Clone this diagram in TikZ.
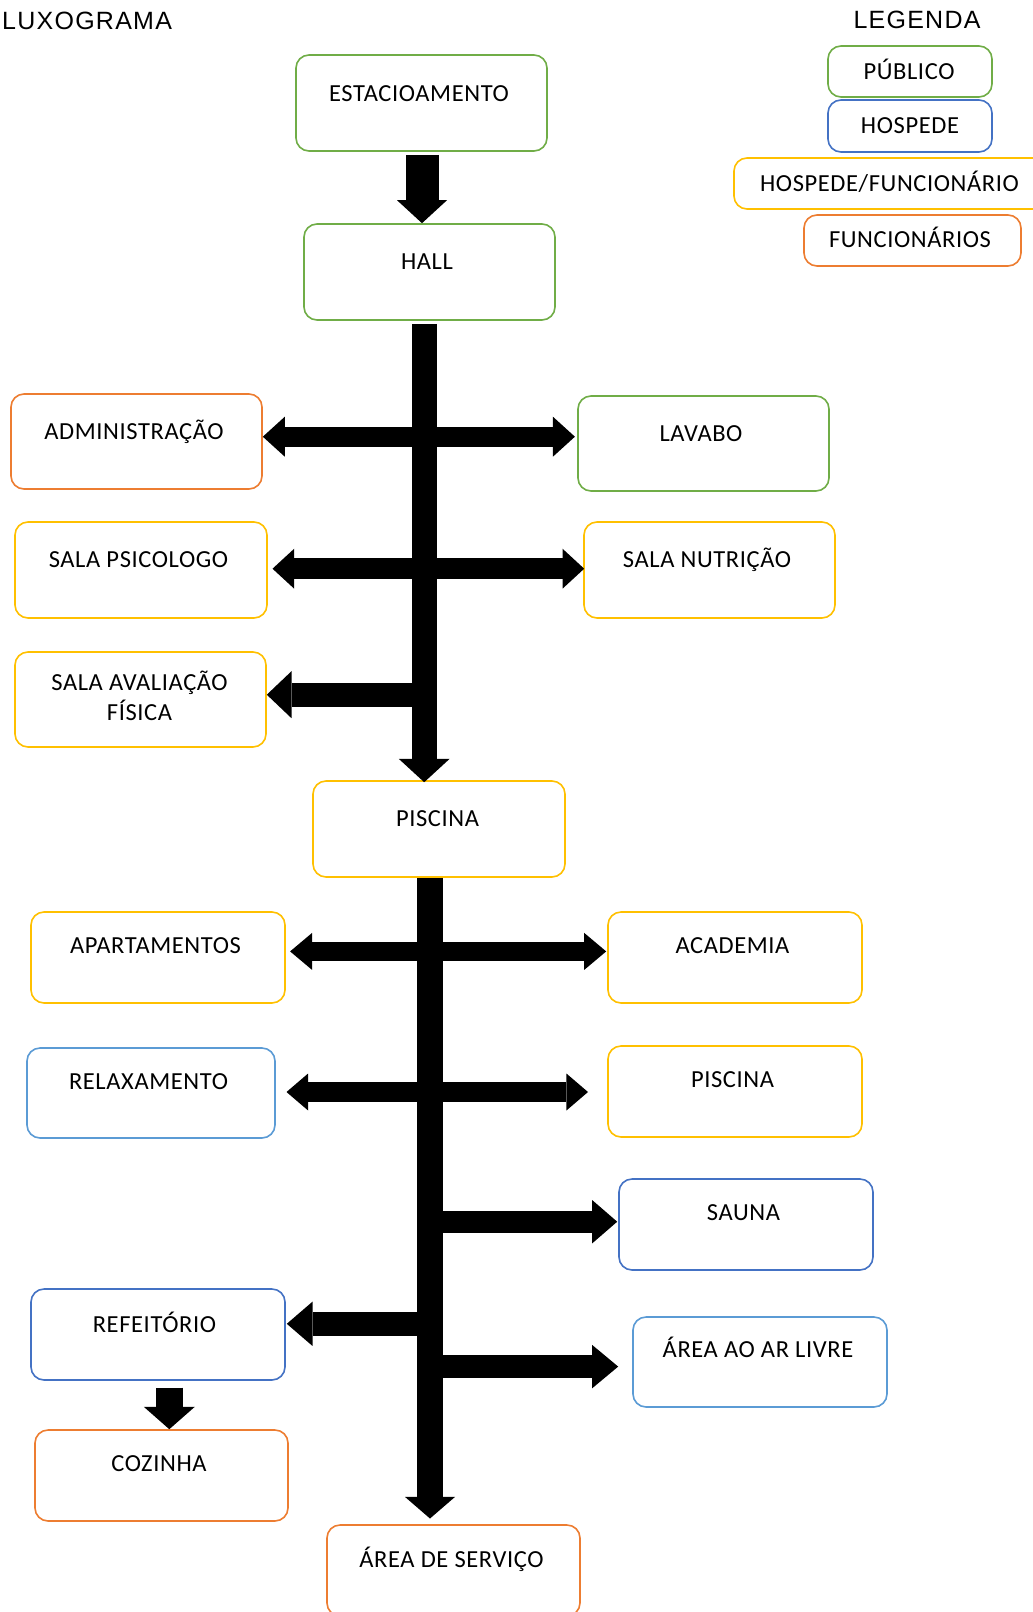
\documentclass[tikz,border=0pt]{standalone}
\usepackage{fontspec}
\setmainfont{Carlito}
\newfontfamily\boxfont[LetterSpace=2.5]{Carlito}
\newfontfamily\headfont[LetterSpace=5]{Liberation Sans}
\usetikzlibrary{arrows.meta,calc}
\definecolor{cgreen}{HTML}{70AD47}
\definecolor{cblue}{HTML}{4472C4}
\definecolor{clblue}{HTML}{5B9BD5}
\definecolor{cyellow}{HTML}{FFC000}
\definecolor{corange}{HTML}{ED7D31}
% name, colour, x1, y1, x2, y2 (pixel coordinates, y downwards)
\newcommand\mkbox[6]{%
  \pgfmathsetmacro\bxcx{(#3+#5)/2}%
  \pgfmathsetmacro\bxcy{(#4+#6)/2}%
  \pgfmathsetmacro\bxw{#5-#3}%
  \pgfmathsetmacro\bxh{#6-#4}%
  \node[box, draw=#2, minimum width=\bxw pt, minimum height=\bxh pt] (#1) at (\bxcx,\bxcy) {};}
\begin{document}
\begin{tikzpicture}[x=1pt,y=-1pt,
  box/.style={line width=1.6pt, rounded corners=13pt, inner sep=0pt, fill=white},
  lbl/.style={font={\boxfont\fontsize{24.5}{30}\selectfont}, inner sep=0pt, anchor=base, text=black},
  hd/.style={font={\headfont\fontsize{25}{30}\selectfont}, inner sep=0pt, text=black},
  fatarr/.style n args={3}{draw=black, line width=#1pt,
    -{Triangle[width=#2pt,length=#3pt,line width=0pt]}},
  fatdbl/.style n args={3}{draw=black, line width=#1pt,
    {Triangle[width=#2pt,length=#3pt,line width=0pt]}-{Triangle[width=#2pt,length=#3pt,line width=0pt]}}]
\useasboundingbox (0,0) rectangle (1033,1612);
\clip (0,0) rectangle (1033,1612);
\fill[white] (0,0) rectangle (1033,1612);

% headings
\node[hd, anchor=base west] (title) at (2,29.3) {LUXOGRAMA};
\node[hd, anchor=base] (legtitle) at (917,28.3) {LEGENDA};

% legend
\mkbox{pub}{cgreen}{828}{46}{992}{97}
\mkbox{hos}{cblue}{828}{100}{992}{152}
\mkbox{hf}{cyellow}{734}{158}{1060}{209}
\mkbox{fun}{corange}{804}{215}{1021}{266}
\node[lbl] (pub-t) at (909,79.3) {PÚBLICO};
\node[lbl] (hos-t) at (910,133) {HOSPEDE};
\node[lbl] (hf-t) at (889.5,191.5) {HOSPEDE/FUNCIONÁRIO};
\node[lbl] (fun-t) at (910,247.5) {FUNCIONÁRIOS};

% boxes
\mkbox{est}{cgreen}{296}{55}{547}{151}
\mkbox{hall}{cgreen}{304}{224}{555}{320}
\mkbox{adm}{corange}{11}{394}{262}{489}
\mkbox{lav}{cgreen}{578}{396}{829}{491}
\mkbox{psi}{cyellow}{15}{522}{267}{618}
\mkbox{nut}{cyellow}{584}{522}{835}{618}
\mkbox{ava}{cyellow}{15}{652}{266}{747}
\mkbox{pis1}{cyellow}{313}{781}{565}{877}
\mkbox{apt}{cyellow}{31}{912}{285}{1003}
\mkbox{aca}{cyellow}{608}{912}{862}{1003}
\mkbox{rel}{clblue}{27}{1048}{275}{1138}
\mkbox{pis2}{cyellow}{608}{1046}{862}{1137}
\mkbox{sau}{cblue}{619}{1179}{873}{1270}
\mkbox{ref}{cblue}{31}{1289}{285}{1380}
\mkbox{are}{clblue}{633}{1317}{887}{1407}
\mkbox{coz}{corange}{35}{1430}{288}{1521}
\mkbox{ser}{corange}{327}{1525}{580}{1616}

% box texts
\node[lbl] (est-t) at ($(est.north)+(-2.5,47)$) {ESTACIOAMENTO};
\node[lbl] (hall-t) at ($(hall.north)+(-2.5,46)$) {HALL};
\node[lbl] (adm-t) at ($(adm.north)+(-2.5,46)$) {ADMINISTRAÇÃO};
\node[lbl] (lav-t) at ($(lav.north)+(-2.5,46)$) {LAVABO};
\node[lbl] (psi-t) at ($(psi.north)+(-2.5,46)$) {SALA PSICOLOGO};
\node[lbl] (nut-t) at ($(nut.north)+(-2.5,46)$) {SALA NUTRIÇÃO};
\node[lbl] (ava-t1) at ($(ava.north)+(-1,39)$) {SALA AVALIAÇÃO};
\node[lbl] (ava-t2) at ($(ava.north)+(-1,69)$) {FÍSICA};
\node[lbl] (pis1-t) at ($(pis1.north)+(-1.5,46.7)$) {PISCINA};
\node[lbl] (apt-t) at ($(apt.north)+(-2.5,42.7)$) {APARTAMENTOS};
\node[lbl] (aca-t) at ($(aca.north)+(-2.5,42.7)$) {ACADEMIA};
\node[lbl] (rel-t) at ($(rel.north)+(-2.5,42)$) {RELAXAMENTO};
\node[lbl] (pis2-t) at ($(pis2.north)+(-2.5,42.6)$) {PISCINA};
\node[lbl] (sau-t) at ($(sau.north)+(-2.5,42.7)$) {SAUNA};
\node[lbl] (ref-t) at ($(ref.north)+(-3.5,44)$) {REFEITÓRIO};
\node[lbl] (are-t) at ($(are.north)+(-2,41.6)$) {ÁREA AO AR LIVRE};
\node[lbl] (coz-t) at ($(coz.north)+(-2.5,42.3)$) {COZINHA};
\node[lbl] (ser-t) at ($(ser.north)+(-2,43.3)$) {ÁREA DE SERVIÇO};

% shaft reference points
\coordinate (s1) at ($(hall.south)+(-5.3,0)$);
\coordinate (s2) at ($(pis1.south)+(-9,0)$);

% connectors
\draw[fatarr={33}{50}{23}] ($(est.south)+(0.5,3)$) -- ($(est.south |- hall.north)+(0.5,0)$);
\draw[fatarr={25}{50.7}{23.3}] ($(s1)+(0,3)$) -- ($(s1 |- pis1.north)+(0,2)$);
\draw[fatdbl={20}{40}{22}] ($(adm.east)+(0,-4.8)$) -- ($(lav.west)+(-2.3,-6.8)$);
\draw[fatdbl={20.7}{40}{21.7}] ($(psi.east)+(4.7,-1.3)$) -- ($(nut.west)+(1,-1.3)$);
\draw[fatarr={24}{47}{24.7}] ($(s1 |- ava.east)+(0,-4.8)$) -- ($(ava.east)+(0,-4.8)$);

\draw[fatarr={26}{50}{21.6}] (s2) -- ($(s2 |- ser.north)+(0,-5.7)$);
\draw[fatdbl={19.5}{37}{22}] ($(apt.east)+(4.3,-6.1)$) -- ($(aca.west)+(-1,-6.1)$);
\draw[fatdbl={19.4}{37}{21.6}] ($(rel.east)+(10.7,-1)$) -- ($(pis2.west)+(-19.2,0.5)$);
\draw[fatarr={21.6}{43.3}{25}] ($(s2 |- sau.west)+(0,-2.8)$) -- ($(sau.west)+(-1,-2.8)$);
\draw[fatarr={24.3}{44.3}{25.7}] ($(s2 |- ref.east)+(0,-10.7)$) -- ($(ref.east)+(1,-10.7)$);
\draw[fatarr={22.7}{43.3}{26}] ($(s2 |- are.west)+(0,4.6)$) -- ($(are.west)+(-14,4.6)$);
\draw[fatarr={26.7}{51}{22.4}] ($(ref.south)+(11.3,6.7)$) -- ($(ref.south |- coz.north)+(11.3,0)$);
\end{tikzpicture}
\end{document}
